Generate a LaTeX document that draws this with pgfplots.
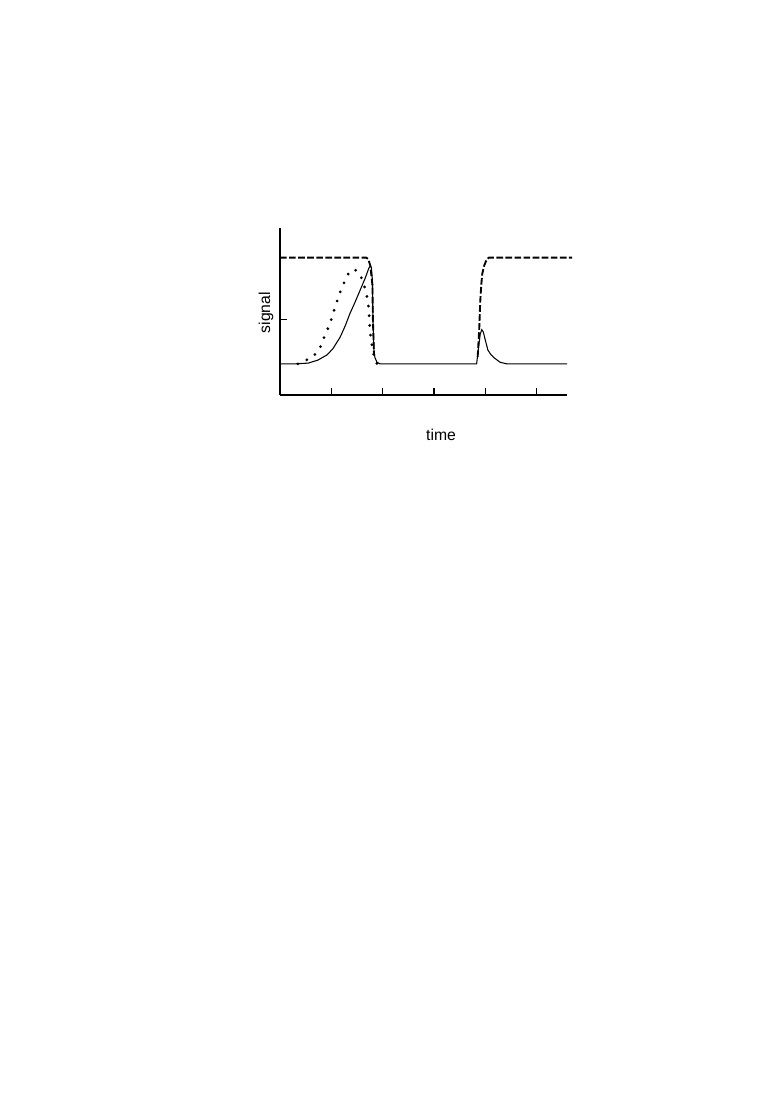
\documentclass[border=0pt]{standalone}
\usepackage{pgfplots}
\pgfplotsset{compat=1.18}
\usepackage{pgfplotstable}
\usepackage{fontspec}
\setmainfont{Liberation Sans}

% solid: measured response
\pgfplotstableread{
x y
0 0.41
0.29 0.41
0.55 0.42
0.74 0.46
0.92 0.53
1.03 0.61
1.17 0.76
1.27 0.91
1.36 1.07
1.46 1.22
1.56 1.38
1.66 1.54
1.73 1.67
1.76 1.70
1.78 1.68
1.80 1.51
1.81 0.99
1.83 0.59
1.85 0.49
1.89 0.43
1.95 0.41
3.83 0.41
3.86 0.59
3.90 0.80
3.93 0.86
3.96 0.83
4.00 0.72
4.05 0.59
4.11 0.53
4.17 0.49
4.29 0.43
4.42 0.41
5.59 0.41
}\solid

% dashed: stimulus (hidden under the solid line along the baseline)
\pgfplotstableread{
x y
0 1.81
1.68 1.81
1.72 1.79
1.76 1.70
1.80 1.45
1.81 0.99
1.83 0.55
nan nan
3.85 0.50
3.88 0.86
3.90 1.23
3.92 1.45
3.94 1.60
3.98 1.71
4.03 1.79
4.07 1.81
5.69 1.81
}\dashedline

% dotted: model
\pgfplotstableread{
x y
0.35 0.41
0.61 0.49
0.72 0.56
0.80 0.65
0.88 0.80
0.97 0.93
1.03 1.07
1.09 1.19
1.15 1.32
1.21 1.42
1.27 1.51
1.34 1.61
1.40 1.65
1.46 1.65
1.54 1.61
1.61 1.51
1.66 1.39
1.70 1.28
1.73 1.14
1.74 1.01
1.75 0.88
1.77 0.75
1.79 0.66
1.82 0.55
1.85 0.46
1.89 0.41
}\dotted

\begin{document}
\begin{tikzpicture}
\path (0,0) rectangle (574.5pt,821.25pt);
\begin{axis}[
  at={(210pt,525pt)}, anchor=south west,
  scale only axis, width=215.25pt, height=125.25pt,
  xmin=0, xmax=5.59, ymin=0, ymax=2.2,
  axis lines*=left, axis line style={line width=0.8pt},
  xtick={1,2,3,4,5}, ytick={1},
  xticklabels={}, yticklabels={},
  tick align=inside, major tick length=5.4pt,
  tick style={line width=0.8pt, black},
  clip=false, unbounded coords=jump,
  font=\fontsize{11.8}{14}\selectfont,
  xlabel={time}, ylabel={signal},
  xlabel style={at={(axis description cs:0.561,-0.24)}, anchor=center},
  ylabel style={at={(axis description cs:-0.049,0.493)}, anchor=center, rotate=0},
]
\addplot[black, line width=0.8pt] table {\solid};
\addplot[black, line width=1.4pt, dash pattern=on 5pt off 1.8pt] table {\dashedline};
\addplot[black, line width=2.3pt, line cap=round, dash pattern=on 0pt off 7.3pt] table {\dotted};
\end{axis}
\end{tikzpicture}
\end{document}
